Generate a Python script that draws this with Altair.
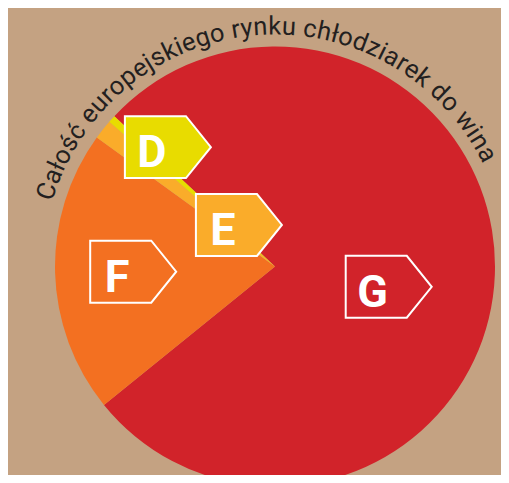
import math
import altair as alt
import pandas as pd

# ---- data ----
CATEGORIES = ["G", "F", "E", "D"]
SHARES = [77.2, 20.8, 1.45, 0.55]
SLICE_COLORS = ["#d1232a", "#f37021", "#faac2a", "#e8dc00"]
TITLE = "Całość europejskiego rynku chłodziarek do wina"

# ---- layout ----
W, H = 493, 467
CX, CY = 267, 258.5          # pie centre inside the chart (px)
R = 220                      # pie radius (px)
START_DEG = -46.9            # where the first slice (G) begins, clockwise from 12 o'clock
LABEL_POLAR = {"G": (100.1, 0.525), "F": (267.9, 0.645), "E": (319.0, 0.25), "D": (318.1, 0.729)}
TITLE_R = 232
TITLE_MID_DEG = -5.0
TITLE_FS = 25.5
TITLE_LS = 0.3
BG = "#c4a282"
INK = "#231f20"

# approximate Roboto advance widths (em)
ADV = {' ': 0.248, 'C': 0.652, 'a': 0.544, 'ł': 0.26, 'o': 0.570, 'ś': 0.516, 'ć': 0.523,
       'e': 0.529, 'u': 0.551, 'r': 0.338, 'p': 0.561, 'j': 0.239, 's': 0.516, 'k': 0.507,
       'i': 0.243, 'g': 0.561, 'y': 0.473, 'n': 0.552, 'c': 0.523, 'h': 0.551, 'd': 0.562,
       'z': 0.496, 'w': 0.751}

pie_df = pd.DataFrame({"cat": CATEGORIES, "share": SHARES, "ord": list(range(len(CATEGORIES)))})
lab_df = pd.DataFrame({
    "cat": CATEGORIES,
    "ang": [LABEL_POLAR[c][0] for c in CATEGORIES],
    "rf": [LABEL_POLAR[c][1] for c in CATEGORIES],
})

# title characters placed along an arc
widths = [ADV.get(ch, 0.55) * TITLE_FS for ch in TITLE]
total = sum(widths) + TITLE_LS * (len(TITLE) - 1)
s = -total / 2
rows = []
for ch, w in zip(TITLE, widths):
    centre = s + w / 2
    th = math.radians(TITLE_MID_DEG) + centre / TITLE_R
    rows.append({"ch": ch, "x": TITLE_R * math.sin(th), "y": TITLE_R * math.cos(th),
                 "ang": math.degrees(th) % 360})
    s += w + TITLE_LS
title_df = pd.DataFrame([r for r in rows if r["ch"] != " "])

xs = alt.Scale(domain=[-CX, W - CX], nice=False, zero=False)
ys = alt.Scale(domain=[-(H - CY), CY], nice=False, zero=False)
col = alt.Scale(domain=CATEGORIES, range=SLICE_COLORS)

pie = alt.Chart(pie_df).transform_calculate(cx="0", cy="0").mark_arc(radius=R).encode(
    theta=alt.Theta("share:Q", stack=True,
                    scale=alt.Scale(range=[math.radians(START_DEG), math.radians(START_DEG) + 2 * math.pi])),
    order=alt.Order("ord:Q", sort="ascending"),
    color=alt.Color("cat:N", scale=col, legend=None),
    x=alt.X("cx:Q", scale=xs, axis=None),
    y=alt.Y("cy:Q", scale=ys, axis=None),
)

title = alt.Chart(title_df).mark_text(
    font="Roboto", fontSize=TITLE_FS, align="center", baseline="alphabetic", color=INK
).encode(
    x=alt.X("x:Q", scale=xs, axis=None),
    y=alt.Y("y:Q", scale=ys, axis=None),
    text="ch:N",
    angle=alt.Angle("ang:Q", scale=None),
)

lab_base = alt.Chart(lab_df).transform_calculate(
    lx=f"datum.rf * {R} * sin(datum.ang * PI / 180)",
    ly=f"datum.rf * {R} * cos(datum.ang * PI / 180)",
)

boxes = lab_base.mark_point(
    shape="M-1,-0.72L0.42,-0.72L1,0L0.42,0.72L-1,0.72Z",
    size=86 * 86, filled=True, opacity=1, stroke="white", strokeWidth=2,
).encode(
    x=alt.X("lx:Q", scale=xs, axis=None),
    y=alt.Y("ly:Q", scale=ys, axis=None),
    fill=alt.Fill("cat:N", scale=col, legend=None),
)

letters = lab_base.mark_text(
    font="Roboto", fontWeight="bold", fontSize=45, color="white",
    align="center", baseline="alphabetic", dx=-16, dy=20,
).encode(
    x=alt.X("lx:Q", scale=xs, axis=None),
    y=alt.Y("ly:Q", scale=ys, axis=None),
    text="cat:N",
)

chart = alt.layer(pie, title, boxes, letters).properties(
    width=W, height=H, padding=0, autosize="none", background=BG
).configure_view(stroke=None)

chart.save("out.html", embed_options={"renderer": "svg", "actions": False})
